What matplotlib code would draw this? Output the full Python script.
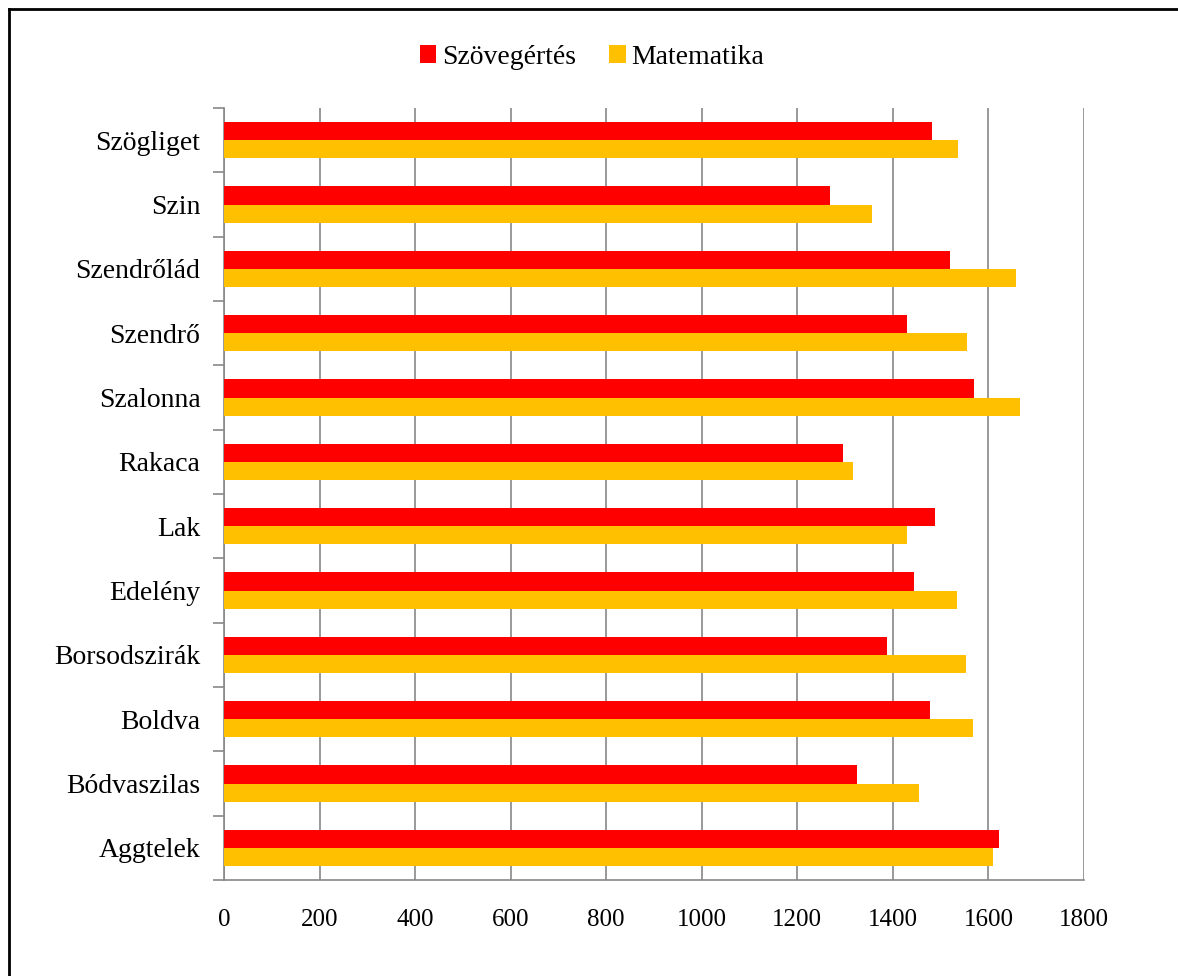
import numpy as np
import matplotlib as mpl
mpl.use('Agg')
import matplotlib.pyplot as plt
from matplotlib.lines import Line2D

# categories bottom to top
telepulesek = ['Aggtelek', 'Bódvaszilas', 'Boldva', 'Borsodszirák', 'Edelény',
               'Lak', 'Rakaca', 'Szalonna', 'Szendrő', 'Szendrőlád', 'Szin', 'Szögliget']
szovegertes = [1622, 1325, 1478, 1388, 1444, 1488, 1295, 1570, 1429, 1519, 1268, 1482]
matematika = [1609, 1455, 1568, 1553, 1534, 1429, 1316, 1666, 1555, 1658, 1356, 1536]
x_ticks = [0, 200, 400, 600, 800, 1000, 1200, 1400, 1600, 1800]

plt.rcParams['font.family'] = ['Liberation Serif', 'DejaVu Serif']

fig = plt.figure(figsize=(11.78, 9.76), dpi=100)
ax = fig.add_axes([224 / 1178, 1 - 880 / 976, (1084 - 224) / 1178, (880 - 108) / 976])

y = np.arange(len(telepulesek))
h = 0.28
ax.barh(y + h / 2, szovegertes, height=h, color='#FF0000', label='Szövegértés', zorder=3)
ax.barh(y - h / 2, matematika, height=h, color='#FFC000', label='Matematika', zorder=3)

ax.set_xlim(0, 1800)
ax.set_ylim(-0.5, len(telepulesek) - 0.5)
ax.set_xticks(x_ticks)
ax.set_xticklabels([str(v) for v in x_ticks], fontsize=18)
ax.set_yticks(y)
ax.set_yticklabels(telepulesek, fontsize=20)
ax.tick_params(axis='y', length=0, pad=17)
ax.tick_params(axis='x', length=0, pad=21)
# category separators on y axis
ax.set_yticks(np.arange(-0.5, len(telepulesek), 1), minor=True)
ax.tick_params(axis='y', which='minor', length=8, color='#888888', width=1.2)
ax.set_xticks(x_ticks, minor=True)
ax.tick_params(axis='x', which='minor', length=8, color='#888888', width=1.2)

ax.grid(axis='x', color='#888888', linewidth=1.2, zorder=0)
for s in ['top', 'right']:
    ax.spines[s].set_visible(False)
for s in ['left', 'bottom']:
    ax.spines[s].set_color('#888888')
    ax.spines[s].set_linewidth(1.2)

fig.legend(loc='center', bbox_to_anchor=(592 / 1178, 1 - 57 / 976), ncol=2, frameon=False,
           fontsize=20, handlelength=0.6, handleheight=0.6, handletextpad=0.2, columnspacing=1.2)

# chart frame lines
fig.add_artist(Line2D([9 / 1178, 9 / 1178], [0, 1 - 9 / 976], transform=fig.transFigure, color='black', linewidth=2))
fig.add_artist(Line2D([9 / 1178, 1], [1 - 9 / 976, 1 - 9 / 976], transform=fig.transFigure, color='black', linewidth=2))

fig.savefig('out.png', dpi=100)
